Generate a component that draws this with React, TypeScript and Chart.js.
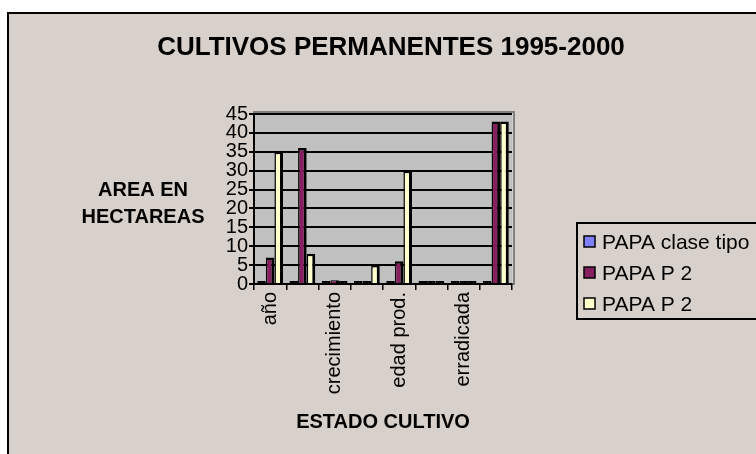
import React, { useEffect, useRef } from 'react';
import { Chart, registerables } from 'chart.js';

Chart.register(...registerables);

const TITLE = 'CULTIVOS PERMANENTES 1995-2000';
const Y_TITLE = ['AREA EN', 'HECTAREAS'];
const X_TITLE = 'ESTADO CULTIVO';

// Every second category label is hidden in the original (overlap skipping)
const categories = ['año', '', 'crecimiento', '', 'edad prod.', '', 'erradicada', ''];
const seriesNames = ['PAPA clase tipo', 'PAPA P 2', 'PAPA P 2'];
const claseTipo = [0, 0, 0, 0, 0, 0, 0, 0];
const papaP2a = [7, 36, 1, 0, 6, 0, 0, 43];
const papaP2b = [35, 8, 0, 5, 30, 0, 0, 43];
const yMin = 0;
const yMax = 45;
const yStep = 5;

const seriesColors = ['#8080ff', '#851f5e', '#ffffcc'];
const BG = '#d8d0ca';
const FONT = '"Liberation Sans", Arial, sans-serif';

const decor = {
  id: 'decor',
  beforeDraw(chart: any) {
    const { ctx, chartArea: a, width, height } = chart;
    ctx.save();
    ctx.fillStyle = '#ffffff';
    ctx.fillRect(0, 0, width, height);
    ctx.fillStyle = BG;
    ctx.fillRect(7, 12, width, height);
    ctx.strokeStyle = '#000';
    ctx.lineWidth = 2;
    ctx.strokeRect(8, 13, width + 20, height + 20);
    // back wall
    ctx.fillStyle = '#c0c0c0';
    ctx.fillRect(a.left, a.top, a.right - a.left, a.bottom - a.top);
    ctx.strokeStyle = '#808080';
    ctx.lineWidth = 2;
    ctx.strokeRect(a.left, a.top - 2, a.right - a.left + 2, a.bottom - a.top + 2);
    ctx.restore();
  },
  afterDraw(chart: any) {
    const { ctx } = chart;
    ctx.save();
    ctx.fillStyle = '#000';
    ctx.textAlign = 'center';
    ctx.textBaseline = 'middle';
    ctx.font = `bold 26px ${FONT}`;
    ctx.fillText(TITLE, 391, 48);
    ctx.font = `bold 20px ${FONT}`;
    ctx.fillText(Y_TITLE[0], 143, 190);
    ctx.fillText(Y_TITLE[1], 143, 217);

    // legend
    ctx.strokeStyle = '#000';
    ctx.lineWidth = 2;
    ctx.strokeRect(577, 223, 220, 96);
    const rows = [242, 273, 304];
    ctx.textAlign = 'left';
    ctx.font = `21px ${FONT}`;
    chart.data.datasets.forEach((ds: any, i: number) => {
      const cy = rows[i];
      ctx.fillStyle = seriesColors[i];
      ctx.fillRect(584, cy - 6, 11, 11);
      ctx.lineWidth = 1.5;
      ctx.strokeRect(584, cy - 6, 11, 11);
      ctx.fillStyle = '#000';
      ctx.fillText(ds.label, 602, cy + 1);
    });
    ctx.restore();
  },
};

export default function App() {
  const ref = useRef<HTMLCanvasElement>(null);
  useEffect(() => {
    if (!ref.current) return;
    const mk = (label: string, data: number[], color: string) => ({
      label,
      data,
      backgroundColor: (c: any) => (c.raw === 0 ? '#000' : color),
      borderColor: '#000',
      borderWidth: { top: 2.5, right: 3, bottom: 0, left: 1.5 },
      borderSkipped: false,
      minBarLength: 3,
      categoryPercentage: 0.8,
      barPercentage: 1.0,
    });
    const chart = new Chart(ref.current, {
      type: 'bar',
      data: {
        labels: categories,
        datasets: [
          mk(seriesNames[0], claseTipo, seriesColors[0]),
          mk(seriesNames[1], papaP2a, seriesColors[1]),
          mk(seriesNames[2], papaP2b, seriesColors[2]),
        ],
      },
      options: {
        responsive: false,
        animation: false,
        layout: { padding: { left: 214, right: 244, top: 114, bottom: 0 } },
        plugins: {
          legend: { display: false },
          title: { display: false },
          tooltip: { enabled: false },
        },
        scales: {
          x: {
            grid: {
              offset: true,
              drawOnChartArea: false,
              drawTicks: true,
              tickLength: 6,
              color: '#000',
              lineWidth: 1.5,
            },
            border: { display: true, color: '#000', width: 2 },
            ticks: {
              autoSkip: false,
              minRotation: 90,
              maxRotation: 90,
              padding: 2,
              color: '#000',
              font: { family: FONT, size: 20 },
            },
            title: {
              display: true,
              text: X_TITLE,
              color: '#000',
              font: { family: FONT, size: 20, weight: 'bold' },
              padding: { top: 0, bottom: 20 },
            },
            afterFit: (s: any) => {
              s.height = 170;
            },
          },
          y: {
            min: yMin,
            max: yMax,
            grid: { color: '#000', lineWidth: 2, tickLength: 5, drawTicks: true },
            border: { display: true, color: '#000', width: 2 },
            ticks: {
              stepSize: yStep,
              autoSkip: false,
              padding: 1,
              color: '#000',
              font: { family: FONT, size: 20 },
            },
            afterFit: (s: any) => {
              s.width = 40;
            },
          },
        },
      },
      plugins: [decor],
    });
    return () => chart.destroy();
  }, []);
  return (
    <div style={{ position: 'absolute', left: 0, top: 0, width: 756, height: 454 }}>
      <canvas ref={ref} width={756} height={454} />
    </div>
  );
}
